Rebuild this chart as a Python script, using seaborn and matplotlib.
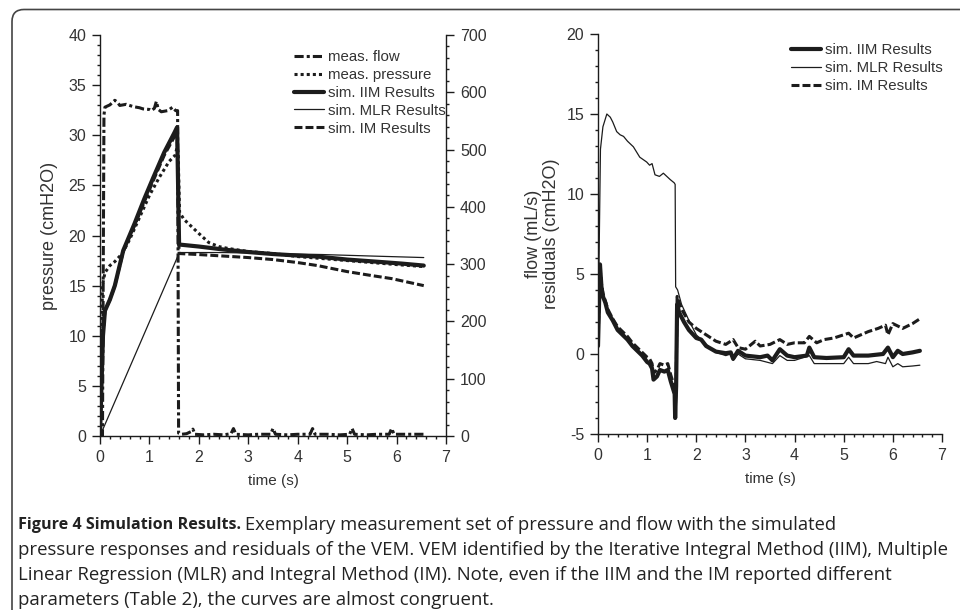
import numpy as np
import matplotlib
matplotlib.use("Agg")
import matplotlib.pyplot as plt
import seaborn as sns
from matplotlib import font_manager
from matplotlib.lines import Line2D
from matplotlib.patches import FancyBboxPatch
from matplotlib.ticker import MultipleLocator

# --- left panel: measured data (time in s) ---
flow_t = [0, 0.05, 0.08, 0.1, 0.2, 0.3, 0.35, 0.4, 0.53, 0.67, 0.8, 0.87, 1.0, 1.04,
          1.1, 1.14, 1.18, 1.24, 1.37, 1.47, 1.53, 1.57, 1.59, 1.65, 1.75, 1.85, 1.88,
          1.92, 2.1, 2.3, 2.5, 2.65, 2.7, 2.75, 3.0, 3.2, 3.45, 3.5, 3.55, 3.8, 4.0,
          4.25, 4.3, 4.35, 4.6, 4.85, 5.05, 5.1, 5.15, 5.4, 5.6, 5.85, 5.9, 5.95,
          6.2, 6.55]
flow_v = [0, 0, 560, 574, 578, 586, 583, 577, 579, 575, 573, 571, 570, 568,
          572, 584, 570, 566, 568, 574, 568, 568, 5, 3, 4, 8, 12, 3, 2, 3, 2, 4,
          13, 3, 2, 3, 3, 13, 3, 2, 3, 3, 13, 3, 3, 2, 3, 13, 3, 2, 3, 3, 13, 3,
          3, 3]

pres_t = [0, 0.03, 0.05, 0.1, 0.2, 0.3, 0.45, 0.6, 0.8, 1.0, 1.2, 1.4, 1.52, 1.56,
          1.58, 1.61, 1.7, 1.85, 2.0, 2.2, 2.4, 2.6, 3.0, 3.5, 4.0, 4.5, 5.0, 5.5,
          6.0, 6.55]
pres_v = [0, 8, 15, 16.3, 17.0, 17.4, 18.2, 19.6, 21.8, 24.0, 25.8, 27.4, 28.0, 28.8,
          28.3, 22.3, 21.6, 20.9, 20.2, 19.3, 18.9, 18.7, 18.4, 18.2, 17.9, 17.7,
          17.5, 17.3, 17.1, 16.9]

# --- left panel: simulated pressures ---
iim_t = [0, 0.03, 0.06, 0.1, 0.2, 0.3, 0.47, 0.7, 0.9, 1.08, 1.3, 1.5, 1.56, 1.6,
         1.8, 2.0, 2.5, 3.0, 3.5, 4.0, 4.4, 5.0, 5.7, 6.1, 6.55]
iim_v = [0, 5, 10, 12.5, 13.6, 15.0, 18.5, 21.2, 23.7, 25.8, 28.3, 30.2, 30.8, 19.1,
         19.0, 18.9, 18.6, 18.35, 18.15, 18.0, 17.9, 17.6, 17.35, 17.2, 17.0]

im_t = [0, 0.03, 0.06, 0.1, 0.2, 0.3, 0.47, 0.7, 0.9, 1.08, 1.3, 1.5, 1.56, 1.6,
        2.0, 2.5, 3.0, 3.5, 4.0, 4.4, 5.0, 5.5, 5.9, 6.55]
im_v = [0, 5, 10, 12.5, 13.6, 15.0, 18.4, 21.0, 23.4, 25.5, 28.0, 29.8, 30.4, 18.2,
        18.1, 17.95, 17.8, 17.6, 17.3, 17.0, 16.4, 16.0, 15.7, 15.0]

mlr_t = [0, 1.58, 1.6, 2.5, 3.5, 4.5, 5.5, 6.55]
mlr_v = [0, 18.0, 18.3, 18.3, 18.2, 18.1, 17.95, 17.8]

# --- right panel: residuals ---
res_iim_t = [0, 0.02, 0.04, 0.07, 0.1, 0.15, 0.2, 0.3, 0.4, 0.5, 0.6, 0.7, 0.8, 0.9,
             1.0, 1.05, 1.1, 1.13, 1.2, 1.26, 1.35, 1.42, 1.48, 1.53, 1.56, 1.57,
             1.59, 1.61, 1.65, 1.75, 1.85, 2.0, 2.1, 2.2, 2.4, 2.6, 2.7, 2.75, 2.85,
             3.0, 3.3, 3.45, 3.55, 3.7, 3.85, 4.0, 4.25, 4.3, 4.4, 4.65, 5.0, 5.1,
             5.2, 5.5, 5.8, 5.9, 6.0, 6.1, 6.2, 6.4, 6.55]
res_iim_v = [0.5, 3, 5.6, 4.2, 3.6, 3.2, 2.6, 2.1, 1.5, 1.2, 0.9, 0.5, 0.2, -0.1,
             -0.5, -0.6, -0.9, -1.6, -1.4, -1.0, -1.1, -1.0, -1.7, -2.2, -2.5, -4.0,
             -2.0, 3.1, 2.6, 2.0, 1.5, 1.0, 0.9, 0.5, 0.15, 0.05, 0.1, -0.3, 0.2,
             -0.1, -0.2, -0.1, -0.4, 0.3, -0.1, -0.2, -0.1, 0.4, -0.2, -0.25, -0.2,
             0.3, -0.1, -0.1, 0.0, 0.4, -0.2, 0.2, 0.0, 0.1, 0.2]

res_im_t = [0, 0.02, 0.04, 0.07, 0.1, 0.15, 0.2, 0.3, 0.4, 0.5, 0.6, 0.7, 0.8, 0.9,
            1.0, 1.05, 1.1, 1.13, 1.2, 1.26, 1.35, 1.42, 1.48, 1.53, 1.56, 1.57,
            1.59, 1.61, 1.7, 1.85, 2.0, 2.2, 2.4, 2.6, 2.75, 2.85, 3.0, 3.2, 3.3,
            3.5, 3.7, 3.85, 4.0, 4.2, 4.3, 4.45, 4.6, 4.8, 5.0, 5.1, 5.2, 5.5, 5.7,
            5.85, 5.9, 6.0, 6.2, 6.4, 6.55]
res_im_v = [0.5, 3, 5.4, 4.4, 3.8, 3.3, 2.8, 2.2, 1.7, 1.4, 1.1, 0.7, 0.4, 0.1,
            -0.2, -0.3, -0.6, -1.2, -1.0, -0.6, -0.7, -0.6, -1.3, -1.8, -2.1, -3.8,
            -1.8, 3.6, 2.8, 2.0, 1.6, 1.2, 0.8, 0.6, 0.9, 0.4, 0.3, 0.8, 0.5, 0.6,
            0.9, 0.6, 0.7, 0.7, 1.1, 0.7, 0.9, 1.0, 1.2, 1.3, 1.0, 1.4, 1.6, 1.8,
            1.2, 1.9, 1.6, 1.9, 2.2]

res_mlr_t = [0, 0.03, 0.05, 0.1, 0.18, 0.25, 0.3, 0.38, 0.45, 0.52, 0.6, 0.72, 0.85,
             0.99, 1.05, 1.1, 1.16, 1.25, 1.33, 1.4, 1.47, 1.55, 1.57, 1.58, 1.62,
             1.7, 1.85, 2.0, 2.2, 2.4, 2.6, 2.7, 2.75, 2.85, 3.0, 3.3, 3.55, 3.7,
             3.85, 4.0, 4.3, 4.4, 4.7, 5.0, 5.1, 5.2, 5.5, 5.67, 5.85, 5.9, 6.0,
             6.1, 6.2, 6.4, 6.55]
res_mlr_v = [0.5, 8, 12.8, 14.2, 15.0, 14.8, 14.5, 13.9, 13.7, 13.6, 13.3, 12.95,
             12.3, 12.0, 11.8, 11.9, 11.2, 11.1, 11.3, 11.1, 10.9, 10.7, 10.6, 4.2,
             4.0, 3.1, 2.1, 1.2, 0.6, 0.1, -0.1, 0.0, -0.4, 0.0, -0.3, -0.4, -0.6,
             -0.1, -0.4, -0.4, -0.1, -0.6, -0.6, -0.6, -0.2, -0.6, -0.6, -0.47,
             -0.6, -0.2, -0.8, -0.6, -0.8, -0.75, -0.7]

labels_left = ["meas. flow", "meas. pressure", "sim. IIM Results",
               "sim. MLR Results", "sim. IM Results"]
labels_right = ["sim. IIM Results", "sim. MLR Results", "sim. IM Results"]

sns.set_theme(style="ticks")
plt.rcParams["font.family"] = ["Liberation Sans", "DejaVu Sans"]
TXT = "#333333"
INK = "#1c1c1c"
plt.rcParams.update({
    "text.color": TXT, "axes.labelcolor": TXT,
    "xtick.color": INK, "ytick.color": INK,
    "xtick.labelcolor": TXT, "ytick.labelcolor": TXT,
    "axes.edgecolor": INK, "axes.linewidth": 1.0,
    "axes.unicode_minus": False,
})

# narrow face for the x titles if present
try:
    font_manager.findfont("Liberation Sans Narrow", fallback_to_default=False)
    XLAB = dict(family=["Liberation Sans Narrow"], fontsize=12.5)
except ValueError:
    XLAB = dict(fontsize=11)

# line styles
S_FLOW = dict(color=INK, linewidth=2.2, linestyle=(0, (3, 1, 1, 1)))
S_PRES = dict(color=INK, linewidth=2.2, linestyle=(0, (1, 1)))
S_IIM = dict(color=INK, linewidth=3.0, linestyle="-")
S_MLR = dict(color=INK, linewidth=0.9, linestyle="-")
S_IM = dict(color=INK, linewidth=2.2, linestyle=(0, (2.6, 1)))

fig = plt.figure(figsize=(9.6, 6.1), dpi=100)

# outer rounded frame
frame = FancyBboxPatch((0.12, -0.5), 10.0, 6.505, boxstyle="round,pad=0,rounding_size=0.12",
                       transform=fig.dpi_scale_trans, facecolor="none",
                       edgecolor="#444444", linewidth=1.2)
fig.patches.append(frame)


def style_axis(ax, xmaj, xmin, ymaj, ymin):
    ax.xaxis.set_major_locator(MultipleLocator(xmaj))
    ax.xaxis.set_minor_locator(MultipleLocator(xmin))
    ax.yaxis.set_major_locator(MultipleLocator(ymaj))
    ax.yaxis.set_minor_locator(MultipleLocator(ymin))
    ax.tick_params(which="major", length=6, width=1.0, labelsize=11.5, pad=4, direction="out")
    ax.tick_params(which="minor", length=2.5, width=1.0, direction="out")


def draw(ax, t, v, style):
    sns.lineplot(x=t, y=v, ax=ax, estimator=None, sort=False, legend=False, **style)


# ---------------- left panel ----------------
axL = fig.add_axes([100 / 960, 1 - 436 / 610, 346 / 960, 401 / 610])
axF = axL.twinx()

draw(axF, flow_t, flow_v, S_FLOW)
draw(axL, pres_t, pres_v, S_PRES)
draw(axL, mlr_t, mlr_v, S_MLR)
draw(axL, im_t, im_v, S_IM)
draw(axL, iim_t, iim_v, S_IIM)

axL.set_xlim(0, 7)
axL.set_ylim(0, 40)
axF.set_ylim(0, 700)
style_axis(axL, 1, 0.2, 5, 1)
style_axis(axF, 1, 0.2, 100, 20)
axL.spines["top"].set_visible(False)
axL.spines["right"].set_visible(False)
for s in ["top", "left", "bottom"]:
    axF.spines[s].set_visible(False)
axF.spines["right"].set_visible(True)
axL.set_xlabel("time (s)", **XLAB)
axL.set_ylabel("pressure (cmH2O)", fontsize=13)
axL.xaxis.set_label_coords(0.5, -0.095)
axL.yaxis.set_label_coords(-0.12, 0.5)
axF.set_ylabel("")

hL = [Line2D([], [], **S_FLOW), Line2D([], [], **S_PRES), Line2D([], [], **S_IIM),
      Line2D([], [], **S_MLR), Line2D([], [], **S_IM)]
fig.legend(hL, labels_left, loc="upper left",
           bbox_to_anchor=(294 / 960, 1 - 50 / 610), bbox_transform=fig.transFigure,
           frameon=False, fontsize=10.8, handlelength=2.0, handletextpad=0.25,
           labelspacing=0.26, borderpad=0, borderaxespad=0)

# ---------------- right panel ----------------
axR = fig.add_axes([598 / 960, 1 - 434 / 610, 344 / 960, 400 / 610])
draw(axR, res_mlr_t, res_mlr_v, S_MLR)
draw(axR, res_im_t, res_im_v, S_IM)
draw(axR, res_iim_t, res_iim_v, S_IIM)
axR.set_xlim(0, 7)
axR.set_ylim(-5, 20)
style_axis(axR, 1, 0.2, 5, 1)
axR.spines["top"].set_visible(False)
axR.spines["right"].set_visible(False)
axR.set_xlabel("time (s)", **XLAB)
axR.set_ylabel("flow (mL/s)\nresiduals (cmH2O)", fontsize=13, linespacing=1.1)
axR.xaxis.set_label_coords(0.5, -0.095)
axR.yaxis.set_label_coords(-0.11, 0.5)

hR = [Line2D([], [], **S_IIM), Line2D([], [], **S_MLR), Line2D([], [], **S_IM)]
fig.legend(hR, labels_right, loc="upper left",
           bbox_to_anchor=(791 / 960, 1 - 43 / 610), bbox_transform=fig.transFigure,
           frameon=False, fontsize=10.8, handlelength=2.0, handletextpad=0.25,
           labelspacing=0.26, borderpad=0, borderaxespad=0)

# ---------------- caption ----------------
cap_font = ["Open Sans", "DejaVu Sans"]
x0, y0, dy = 18 / 960, 1 - 525 / 610, 25 / 610
bold = fig.text(x0, y0, "Figure 4 Simulation Results.", fontsize=11.6,
                fontweight="bold", family=cap_font, color="#222222", va="center")
fig.canvas.draw()
bb = bold.get_window_extent(renderer=fig.canvas.get_renderer())
fig.text(bb.x1 / fig.bbox.width + 4 / 960, y0,
         "Exemplary measurement set of pressure and flow with the simulated",
         fontsize=13.2, family=cap_font, color="#222222", va="center")
cap_lines = [
    "pressure responses and residuals of the VEM. VEM identified by the Iterative Integral Method (IIM), Multiple",
    "Linear Regression (MLR) and Integral Method (IM). Note, even if the IIM and the IM reported different",
    "parameters (Table 2), the curves are almost congruent.",
]
for i, line in enumerate(cap_lines):
    fig.text(x0, y0 - dy * (i + 1), line, fontsize=13.4, family=cap_font,
             color="#222222", va="center")

fig.savefig("out.png", dpi=100)
